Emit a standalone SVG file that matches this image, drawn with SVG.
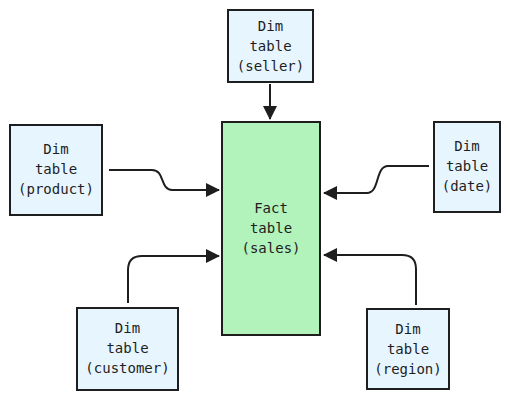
<svg xmlns="http://www.w3.org/2000/svg" width="510" height="400" viewBox="0 0 510 400">
<defs>
<style>
.dim{fill:#e7f5ff;stroke:#1e1e1e;stroke-width:2}
.fact{fill:#b2f2bb;stroke:#1e1e1e;stroke-width:2}
.t{font-family:"DejaVu Sans Mono","Liberation Mono",monospace;font-size:14px;fill:#1e1e1e;text-anchor:middle}
.c{fill:none;stroke:#1e1e1e;stroke-width:2}
</style>
<marker id="ah" viewBox="0 0 14 14" refX="13" refY="7" markerWidth="14" markerHeight="14" markerUnits="userSpaceOnUse" orient="auto">
<path d="M0,0 L14,7 L0,14 Z" fill="#1e1e1e"/>
</marker>
</defs>
<rect width="510" height="400" fill="#ffffff"/>
<g id="connectors">
<path class="c" d="M270,84 L270,119" marker-end="url(#ah)"/>
<path class="c" d="M109,170 L152,170 C165,170 160,190 172,190 L219,190" marker-end="url(#ah)"/>
<path class="c" d="M429,166 L388,166 C375,166 380,193 367,193 L324,193" marker-end="url(#ah)"/>
<path class="c" d="M128,303 L128,270 Q128,256 142,256 L219,256" marker-end="url(#ah)"/>
<path class="c" d="M416,305 L416,269 Q416,255 402,255 L324,255" marker-end="url(#ah)"/>
</g>
<g id="seller">
<rect class="dim" x="228" y="10" width="85" height="72"/>
<text class="t" x="270.5" y="31">Dim</text>
<text class="t" x="270.5" y="51">table</text>
<text class="t" x="270.5" y="71">(seller)</text>
</g>
<g id="fact">
<rect class="fact" x="222" y="122" width="98" height="213"/>
<text class="t" x="271" y="213">Fact</text>
<text class="t" x="271" y="233">table</text>
<text class="t" x="271" y="253">(sales)</text>
</g>
<g id="product">
<rect class="dim" x="10" y="125" width="92" height="90"/>
<text class="t" x="56" y="154">Dim</text>
<text class="t" x="56" y="174">table</text>
<text class="t" x="56" y="194">(product)</text>
</g>
<g id="date">
<rect class="dim" x="434" y="122" width="66" height="90"/>
<text class="t" x="467" y="151">Dim</text>
<text class="t" x="467" y="171">table</text>
<text class="t" x="467" y="191">(date)</text>
</g>
<g id="customer">
<rect class="dim" x="77" y="308" width="101" height="82"/>
<text class="t" x="127.5" y="333">Dim</text>
<text class="t" x="127.5" y="353">table</text>
<text class="t" x="127.5" y="373">(customer)</text>
</g>
<g id="region">
<rect class="dim" x="367" y="309" width="82" height="80"/>
<text class="t" x="408" y="334">Dim</text>
<text class="t" x="408" y="354">table</text>
<text class="t" x="408" y="374">(region)</text>
</g>
</svg>
